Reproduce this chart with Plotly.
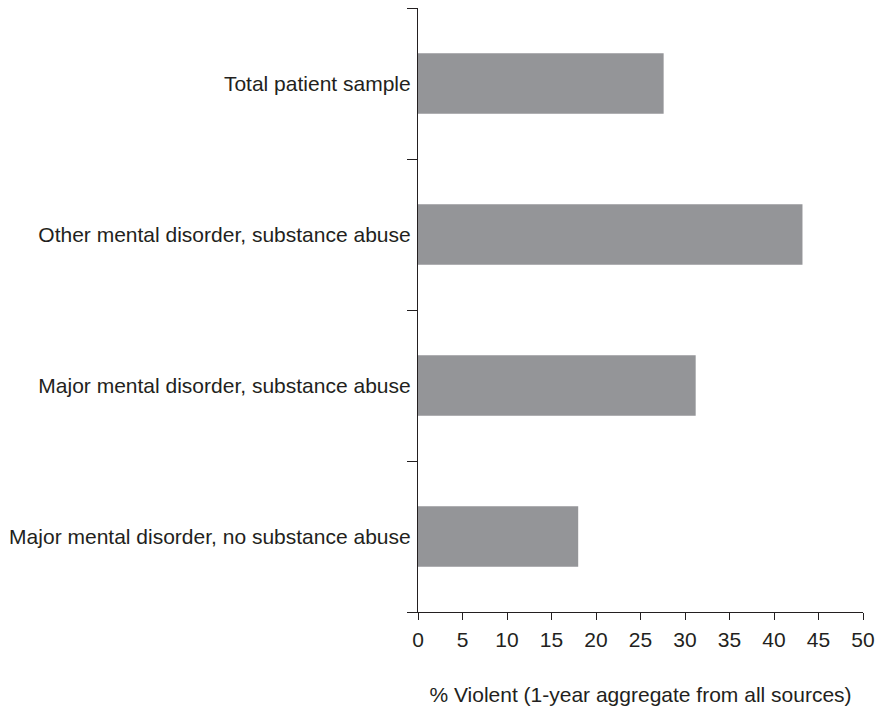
import plotly.graph_objects as go

categories = [
    "Major mental disorder, no substance abuse",
    "Major mental disorder, substance abuse",
    "Other mental disorder, substance abuse",
    "Total patient sample",
]
values = [18.0, 31.2, 43.2, 27.6]
x_ticks = [0, 5, 10, 15, 20, 25, 30, 35, 40, 45, 50]
x_title = "% Violent (1-year aggregate from all sources)"

FONT = "Liberation Sans, Arial, sans-serif"
INK = "#231f20"
fig = go.Figure(go.Bar(
    y=categories, x=values, orientation="h",
    marker=dict(color="#949598", line=dict(width=0)),
    width=0.4,
))
fig.update_layout(
    width=875, height=698,
    margin=dict(l=410, r=20, t=0, b=94),
    plot_bgcolor="white", paper_bgcolor="white",
    showlegend=False,
    font=dict(family=FONT, size=21, color=INK),
)
fig.update_xaxes(
    range=[0, 50], tickvals=x_ticks, ticks="outside", ticklen=7,
    tickcolor=INK, showline=True, linecolor=INK, linewidth=1.2,
    showgrid=False, zeroline=False, ticklabelstandoff=2,
    title=dict(text=x_title, standoff=37, font=dict(size=21)),
)
fig.update_yaxes(
    type="category", categoryorder="array", categoryarray=categories,
    range=[-0.5, 3.5], tickson="boundaries", ticks="outside", ticklen=10,
    tickcolor=INK, showline=True, linecolor=INK, linewidth=1.2,
    showgrid=False, zeroline=False, ticklabelstandoff=2,
)
fig.write_html("out.html")
